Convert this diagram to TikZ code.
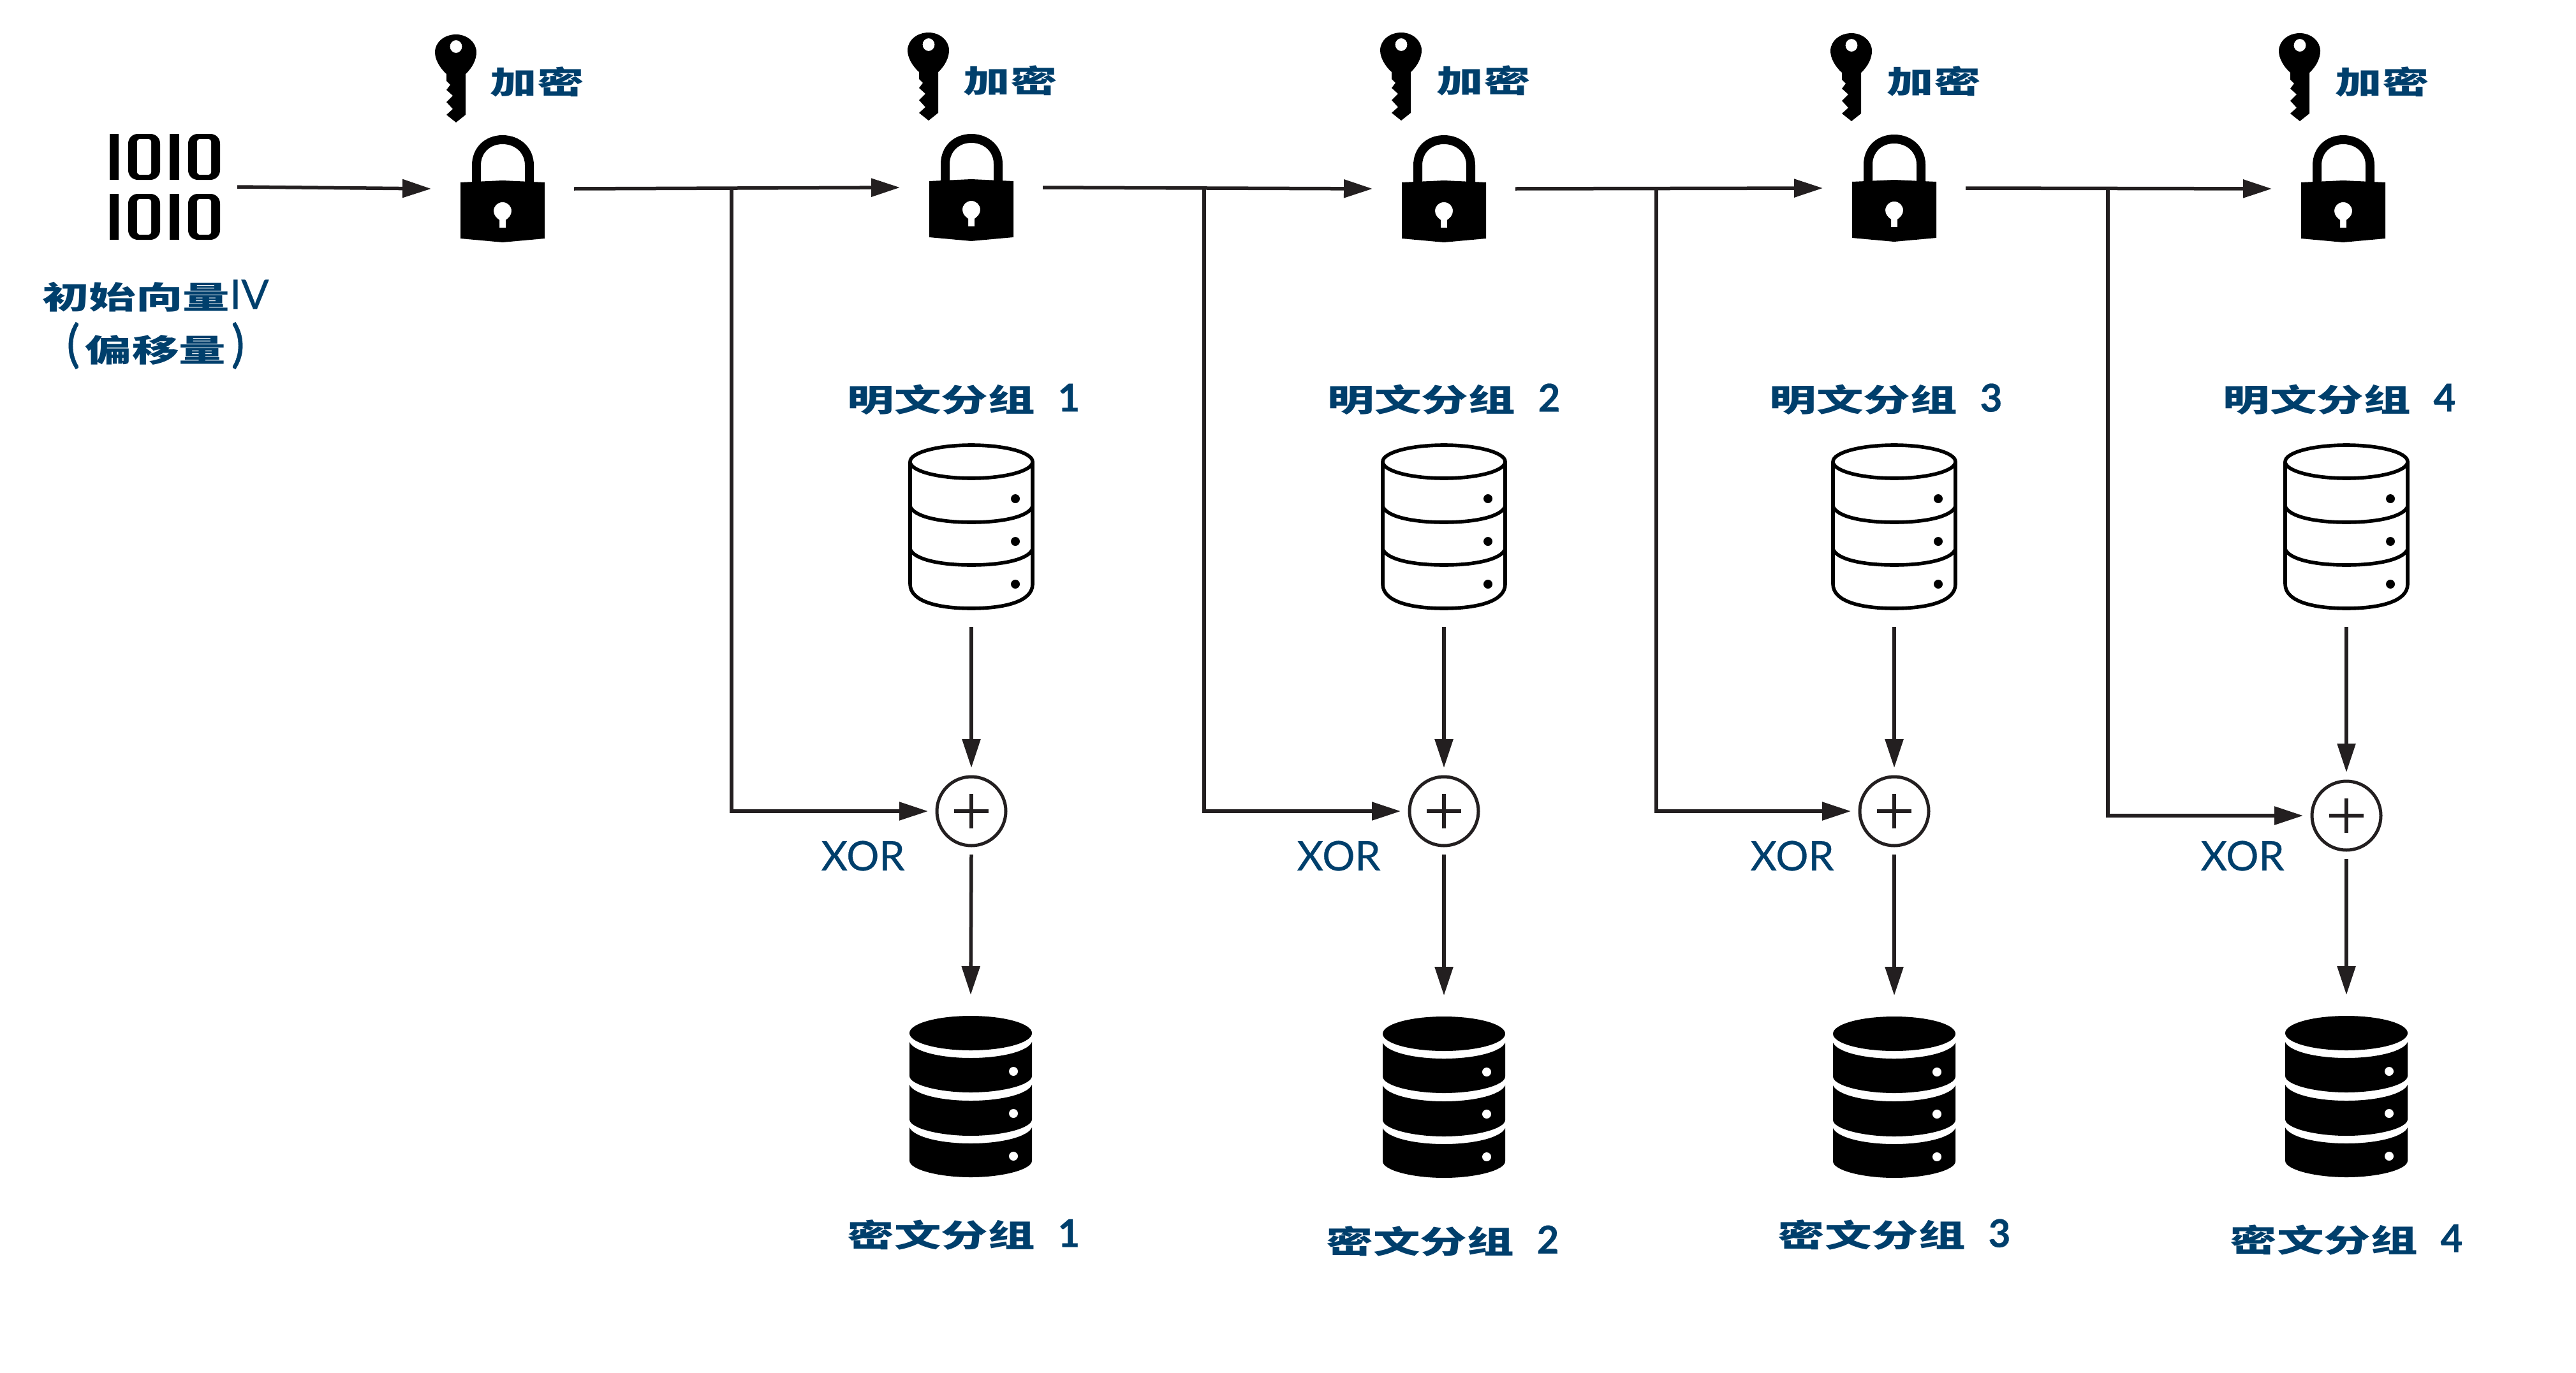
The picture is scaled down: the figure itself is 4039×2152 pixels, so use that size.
\documentclass[tikz,border=0pt]{standalone}
\usepackage{fontspec}
\usetikzlibrary{arrows.meta}
\newfontfamily\cjkfont[FakeStretch=1.5]{Noto Sans CJK SC}
\newfontfamily\latinfont[FakeBold=0.5]{Lato}
\definecolor{labelblue}{HTML}{003F6C}
\definecolor{linedark}{HTML}{231F20}
\newcommand{\lbl}[1]{{\cjkfont\bfseries #1}}
\newcommand{\xl}[1]{{\latinfont\fontsize{64}{70}\selectfont #1}}
\newcommand{\dg}[1]{\hspace{36pt}{\latinfont\bfseries\fontsize{60}{70}\selectfont #1}}
\tikzset{
  labeltext/.style={text=labelblue,inner sep=0pt,outer sep=0pt,align=center,font=\fontsize{49}{60}\selectfont},
  flow/.style={draw=linedark,line width=5.5pt,-{Triangle[length=45pt,width=28pt]}},
  lockbox/.style={minimum width=132pt,minimum height=168pt,inner sep=0pt,outer sep=46pt},
  plainbox/.style={minimum width=198pt,minimum height=262pt,inner sep=0pt,outer sep=26pt},
  cipherbox/.style={minimum width=192pt,minimum height=254pt,inner sep=0pt,outer sep=33pt},
  binbox/.style={minimum width=174pt,minimum height=165pt,inner sep=0pt,outer sep=26pt},
  xorcircle/.style={circle,draw=linedark,line width=5pt,fill=white,minimum size=108pt,inner sep=0pt,outer sep=14pt},
  lockicon/.pic={
    \fill[black,even odd rule] (-48,-37) .. controls (-48,-64) and (-28,-84) .. (0,-84)
      .. controls (28,-84) and (49,-64) .. (49,-37) -- (49,-8) -- (35,-8) -- (35,-37)
      .. controls (35,-56) and (20,-70) .. (0,-70) .. controls (-20,-70) and (-34,-56) .. (-34,-37) -- (-34,-8) -- (-48,-8) -- cycle;
    \fill[black,even odd rule] (-66,-10) -- (0,-13) -- (66,-10) -- (66,78) -- (0,84) -- (-66,78) -- cycle
      (0,21) .. controls (-8,21) and (-14,27) .. (-14,35) .. controls (-14,42) and (-9,46) .. (-5,49)
      -- (-5,61) -- (5,61) -- (5,49) .. controls (9,46) and (14,42) .. (14,35) .. controls (14,27) and (8,21) .. (0,21) -- cycle;
  },
  keyicon/.pic={
    \fill[black,even odd rule] (-15,-7) -- (-15,4) -- (-9,10) -- (-15,18) -- (-5,27) -- (-15,37) -- (-5,48) -- (-15,57) -- (0,69)
      -- (15,57) -- (15,-7) .. controls (26,-17) and (32,-30) .. (32,-41)
      .. controls (32,-57) and (17,-69) .. (0,-69) .. controls (-18,-69) and (-33,-57) .. (-33,-41)
      .. controls (-33,-30) and (-26,-17) .. (-15,-7) -- cycle
      (0,-50) ellipse [x radius=9.5,y radius=10];
  },
  zeroglyph/.pic={
    \fill[black,rounded corners=15pt] (-25,-36) rectangle (25,36);
    \fill[white,rounded corners=4pt] (-11,-28) rectangle (11,28);
  },
  biticon/.pic={
    \foreach \yy in {-47,47}{
      \fill[black] (-87,\yy-36) rectangle (-73,\yy+36);
      \pic at (-33,\yy) {zeroglyph};
      \fill[black] (7,\yy-36) rectangle (22,\yy+36);
      \pic at (61,\yy) {zeroglyph};
    }
  },
  plaindb/.pic={
    \begin{scope}[draw=black,line width=5.6pt]
      \draw (0,-102) ellipse [x radius=96,y radius=26];
      \draw (-96,-102) -- (-96,90) .. controls (-96,118) and (-50,128) .. (0,128)
         .. controls (50,128) and (96,118) .. (96,90) -- (96,-102);
      \foreach \yy in {-32,35}{
        \draw (-96,\yy) .. controls (-90,\yy+16) and (-50,\yy+25) .. (0,\yy+25)
          .. controls (50,\yy+25) and (90,\yy+16) .. (96,\yy);
      }
    \end{scope}
    \fill[black] (69,-44) circle [radius=7] (69,23) circle [radius=7] (69,90) circle [radius=7];
  },
  cipherdb/.pic={
    \fill[black] (0,-100) ellipse [x radius=96,y radius=27];
    \foreach \yt/\yb in {-86/-33,-19/35,48/100}{
      \fill[black] (-96,\yt) .. controls (-90,\yt+14) and (-50,\yt+25) .. (0,\yt+25)
        .. controls (50,\yt+25) and (90,\yt+14) .. (96,\yt) -- (96,\yb)
        .. controls (96,\yb+14) and (50,\yb+26) .. (0,\yb+26)
        .. controls (-50,\yb+26) and (-96,\yb+14) .. (-96,\yb) -- cycle;
    }
    \fill[white] (67,-40) circle [radius=7] (67,26) circle [radius=7] (67,93) circle [radius=7];
  },
}
\begin{document}
\begin{tikzpicture}[x=1pt,y=-1pt]
\useasboundingbox (0,0) rectangle (4039,2152);
\fill[white] (0,0) rectangle (4039,2152);

% --- initial vector
\node[binbox] (bin) at (259,293) {};
\pic at (259,293) {biticon};
\node[labeltext] (ivtext) at (244,464) {\lbl{初始向量}\xl{IV}};
\node[labeltext] (ivtext2) at (244,542) {\xl{\fontsize{80}{84}\selectfont(}\,\lbl{偏移量}\,\xl{\fontsize{80}{84}\selectfont)}};

% --- locks
\node[lockbox] (lock1) at (788,296) {}; \pic at (788,296) {lockicon};
\node[lockbox] (lock2) at (1523,294) {}; \pic at (1523,294) {lockicon};
\node[lockbox] (lock3) at (2264,296) {}; \pic at (2264,296) {lockicon};
\node[lockbox] (lock4) at (2970,295) {}; \pic at (2970,295) {lockicon};
\node[lockbox] (lock5) at (3674,296) {}; \pic at (3674,296) {lockicon};

% --- keys and their labels
\pic at (715,123) {keyicon}; \node[labeltext] (enc1) at (842,128) {\lbl{加密}};
\pic at (1456,120) {keyicon}; \node[labeltext] (enc2) at (1584,126) {\lbl{加密}};
\pic at (2197,120) {keyicon}; \node[labeltext] (enc3) at (2326,126) {\lbl{加密}};
\pic at (2903,121) {keyicon}; \node[labeltext] (enc4) at (3032,127) {\lbl{加密}};
\pic at (3606,121) {keyicon}; \node[labeltext] (enc5) at (3735,128) {\lbl{加密}};

% --- plaintext labels
\node[labeltext] (pt1) at (1511,626) {\lbl{明文分组}\dg{1}};
\node[labeltext] (pt2) at (2264,626) {\lbl{明文分组}\dg{2}};
\node[labeltext] (pt3) at (2957,626) {\lbl{明文分组}\dg{3}};
\node[labeltext] (pt4) at (3668,626) {\lbl{明文分组}\dg{4}};

% --- plaintext stores
\node[plainbox] (db1) at (1523,826) {}; \pic at (1523,826) {plaindb};
\node[plainbox] (db2) at (2264,826) {}; \pic at (2264,826) {plaindb};
\node[plainbox] (db3) at (2970,826) {}; \pic at (2970,826) {plaindb};
\node[plainbox] (db4) at (3679,826) {}; \pic at (3679,826) {plaindb};

% --- xor nodes
\node[xorcircle] (xor1) at (1523,1272) {};
\node[xorcircle] (xor2) at (2264,1272) {};
\node[xorcircle] (xor3) at (2970,1272) {};
\node[xorcircle] (xor4) at (3679,1279) {};
\foreach \nn in {xor1,xor2,xor3,xor4}{
  \draw[linedark,line width=5.5pt] ([xshift=-27pt]\nn.center) -- ([xshift=27pt]\nn.center)
    ([yshift=-27pt]\nn.center) -- ([yshift=27pt]\nn.center);
}
\node[labeltext] (xl1) at (1353,1342) {\xl{XOR}};
\node[labeltext] (xl2) at (2099,1342) {\xl{XOR}};
\node[labeltext] (xl3) at (2810,1342) {\xl{XOR}};
\node[labeltext] (xl4) at (3516,1342) {\xl{XOR}};

% --- ciphertext stores
\node[cipherbox] (cd1) at (1522,1720) {}; \pic at (1522,1720) {cipherdb};
\node[cipherbox] (cd2) at (2264,1721) {}; \pic at (2264,1721) {cipherdb};
\node[cipherbox] (cd3) at (2970,1721) {}; \pic at (2970,1721) {cipherdb};
\node[cipherbox] (cd4) at (3679,1720) {}; \pic at (3679,1720) {cipherdb};

% --- ciphertext labels
\node[labeltext] (ct1) at (1511,1936) {\lbl{密文分组}\dg{1}};
\node[labeltext] (ct2) at (2262,1946) {\lbl{密文分组}\dg{2}};
\node[labeltext] (ct3) at (2970,1936) {\lbl{密文分组}\dg{3}};
\node[labeltext] (ct4) at (3679,1944) {\lbl{密文分组}\dg{4}};

% --- connectors
\draw[flow] (bin.east) -- (lock1.west);
\draw[flow] (lock1.east) -- (lock2.west);
\draw[flow] (lock2.east) -- (lock3.west);
\draw[flow] (lock3.east) -- (lock4.west);
\draw[flow] (lock4.east) -- (lock5.west);

\coordinate (bj1) at (1147,295);
\coordinate (bj2) at (1888,295);
\coordinate (bj3) at (2597,295);
\coordinate (bj4) at (3305,295);
\draw[flow] (bj1) |- (xor1.west);
\draw[flow] (bj2) |- (xor2.west);
\draw[flow] (bj3) |- (xor3.west);
\draw[flow] (bj4) |- (xor4.west);

\foreach \i in {1,2,3,4}{
  \draw[flow] (db\i.south) -- (xor\i.north);
  \draw[flow] (xor\i.south) -- (cd\i.north);
}
\end{tikzpicture}
\end{document}
